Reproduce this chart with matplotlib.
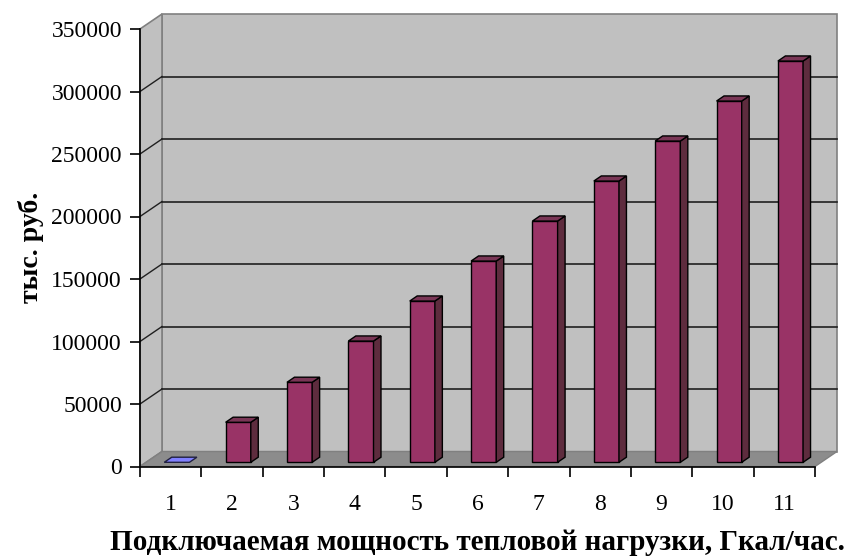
import matplotlib.pyplot as plt
from matplotlib.patches import Polygon
import numpy as np

categories = ['1', '2', '3', '4', '5', '6', '7', '8', '9', '10', '11']
values = [0, 32000, 64000, 97000, 129000, 161000, 193000, 225000, 257000, 289000, 321000]
yticks = [0, 50000, 100000, 150000, 200000, 250000, 300000, 350000]

plt.rcParams['font.family'] = ['Liberation Serif', 'DejaVu Serif']

fig = plt.figure(figsize=(8.49, 5.56), dpi=100)
ax = fig.add_axes([140 / 849, 1 - 466.5 / 556, 675 / 849, 437.5 / 556])
n = len(categories)
ymax = yticks[-1]
ax.set_xlim(0, n)
ax.set_ylim(0, ymax)

# depth of the 3d box in data units
DX = 0.3585
DY = 12000
wall = '#c0c0c0'
edge = '#808080'

def poly(pts, fc, ec, lw=1.0, z=1):
    ax.add_patch(Polygon(pts, closed=True, facecolor=fc, edgecolor=ec, lw=lw,
                         clip_on=False, zorder=z))

# back wall, side wall, floor
poly([(DX, DY), (n + DX, DY), (n + DX, ymax + DY), (DX, ymax + DY)], wall, edge, 1.2, 1)
poly([(0, 0), (DX, DY), (DX, ymax + DY), (0, ymax)], wall, edge, 1.2, 1)
poly([(0, 0), (n, 0), (n + DX, DY), (DX, DY)], '#8c8c8c', edge, 1.0, 2)

# gridlines
for v in yticks[1:-1]:
    ax.plot([DX, n + DX], [v + DY, v + DY], color='#202020', lw=1.2, clip_on=False, zorder=1.5)
    ax.plot([0, DX], [v, v + DY], color='#202020', lw=1.0, clip_on=False, zorder=1.5)

# bars
f0, f1 = 0.28, 0.62
w = 0.41
dd = f1 - f0
front = '#993366'
side = '#5e2c3e'
top = '#7a3656'
for i, v in enumerate(values):
    xl = i + 0.5 - w / 2 + f0 * DX
    xr = xl + w
    yb = f0 * DY
    yt = v + f0 * DY
    if v == 0:
        poly([(xl, yt), (xr, yt), (xr + dd * DX, yt + dd * DY), (xl + dd * DX, yt + dd * DY)],
             '#8080ff', '#202040', 1.0, 3)
        continue
    poly([(xl, yb), (xr, yb), (xr, yt), (xl, yt)], front, 'black', 1.0, 3)
    poly([(xr, yb), (xr + dd * DX, yb + dd * DY), (xr + dd * DX, yt + dd * DY), (xr, yt)],
         side, 'black', 1.0, 3)
    poly([(xl, yt), (xr, yt), (xr + dd * DX, yt + dd * DY), (xl + dd * DX, yt + dd * DY)],
         top, 'black', 1.0, 3)

ax.set_facecolor('none')
for s in ['top', 'right']:
    ax.spines[s].set_visible(False)
for s in ['left', 'bottom']:
    ax.spines[s].set_color('black')
    ax.spines[s].set_linewidth(1.2)
    ax.spines[s].set_zorder(5)

ax.set_yticks(yticks)
ax.set_yticklabels([str(t) for t in yticks])
ax.set_xticks(np.arange(n + 1))
ax.set_xticklabels([])
ax.set_xticks(np.arange(n) + 0.5, minor=True)
ax.set_xticklabels(categories, minor=True)
ax.tick_params(axis='both', which='major', direction='out', length=7, width=1.2,
               labelsize=17, color='black')
ax.tick_params(axis='x', which='minor', length=0, labelsize=17, pad=20)
ax.tick_params(axis='y', pad=6)

ax.set_xlabel('Подключаемая мощность тепловой нагрузки, Гкал/час.',
              fontsize=21, fontweight='bold', labelpad=10)
ax.set_ylabel('тыс. руб.', fontsize=20, fontweight='bold', labelpad=5)

fig.savefig('out.png', dpi=100)
